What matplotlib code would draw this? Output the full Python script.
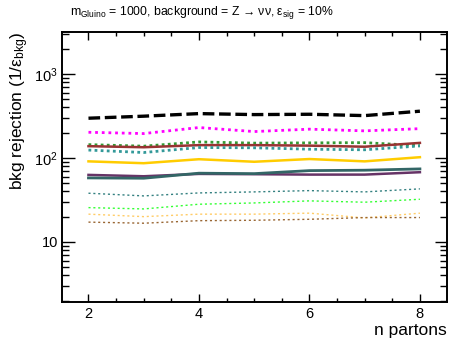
import numpy as np
import matplotlib
matplotlib.use("Agg")
import matplotlib.pyplot as plt
from matplotlib.ticker import FixedLocator, FixedFormatter, MultipleLocator, LogLocator, NullFormatter

plt.rcParams['font.family'] = ['Liberation Sans', 'DejaVu Sans']
plt.rcParams['mathtext.fontset'] = 'custom'
plt.rcParams['mathtext.rm'] = 'Liberation Sans'
plt.rcParams['mathtext.it'] = 'Liberation Sans'
plt.rcParams['mathtext.cal'] = 'Liberation Sans'

n_partons = [2, 3, 4, 5, 6, 7, 8]

# bkg rejection per curve
black_dash = [297, 314, 337, 328, 331, 319, 360]
magenta_dot = [202, 195, 230, 206, 220, 210, 223]
green_dot = [144, 138, 155, 150, 151, 152, 140]
brown_solid = [138, 134, 142, 142, 140, 136, 151]
teal_dot = [124, 116, 133, 132, 127, 125, 139]
gold_solid = [91, 86.5, 96.5, 90, 97, 91, 102]
purple_solid = [62.8, 60.5, 64.5, 64, 63.3, 63.3, 67.6]
slate_solid = [57.8, 57.3, 65.8, 65, 70.6, 71.4, 74]
teal_thin = [38, 35.3, 38.3, 39.4, 40.8, 39.4, 42.8]
lime_thin = [25.6, 24.7, 28.1, 29.1, 30.8, 29.7, 32.2]
orange_thin = [21.4, 20, 21.4, 21.4, 22, 19.3, 22]
brown_thin = [17.2, 16.7, 17.9, 18.1, 18.6, 19.5, 19.5]

curves = [
    (black_dash, '#000000', 2.4, [3.5, 1.4]),
    (magenta_dot, '#ff00ff', 2.0, [1.0, 1.4]),
    (green_dot, '#339933', 2.0, [1.0, 1.2]),
    (brown_solid, '#993333', 1.8, None),
    (teal_dot, '#339999', 2.0, [1.0, 1.2]),
    (gold_solid, '#ffcc00', 1.8, None),
    (purple_solid, '#663366', 1.8, None),
    (slate_solid, '#336666', 2.0, None),
    (teal_thin, '#338080', 1.0, [1.5, 2.0]),
    (lime_thin, '#33ff33', 1.0, [1.5, 2.0]),
    (orange_thin, '#ffcc66', 1.0, [1.5, 2.0]),
    (brown_thin, '#996633', 1.0, [1.5, 2.0]),
]

fig = plt.figure(figsize=(4.49, 3.40), dpi=100)
ax = fig.add_axes([0.138, 0.112, 0.8575, 0.794])

for vals, col, lw, dashes in curves:
    if dashes is None:
        ax.plot(n_partons, vals, color=col, lw=lw)
    else:
        ax.plot(n_partons, vals, color=col, lw=lw, dashes=dashes)

ax.set_yscale('log')
ax.set_xlim(1.52, 8.49)
ax.set_ylim(1.93, 3160)

ax.xaxis.set_major_locator(MultipleLocator(2))
ax.xaxis.set_minor_locator(MultipleLocator(0.5))
ax.yaxis.set_major_locator(FixedLocator([10, 100, 1000]))
ax.yaxis.set_major_formatter(FixedFormatter(['10', r'$10^{2}$', r'$10^{3}$']))
ax.yaxis.set_minor_locator(LogLocator(base=10, subs=np.arange(2, 10)))
ax.yaxis.set_minor_formatter(NullFormatter())

ax.tick_params(which='both', direction='in', top=True, right=True, width=1.0, labelsize=10.5)
ax.tick_params(axis='x', which='major', length=6, pad=4)
ax.tick_params(axis='x', which='minor', length=3)
ax.tick_params(axis='y', which='major', length=9, pad=3)
ax.tick_params(axis='y', which='minor', length=5)
for s in ax.spines.values():
    s.set_linewidth(1.4)

ax.set_xlabel('n partons', fontsize=12.5, loc='right', labelpad=1)
ax.set_ylabel(r'bkg rejection (1/$\epsilon_{\mathrm{bkg}}$)', fontsize=12.5, loc='top', labelpad=2)
fig.text(0.156, 0.963, r'$m_{\mathrm{Gluino}}$ = 1000, background = Z → νν, $\epsilon_{\mathrm{sig}}$ = 10%',
         fontsize=8.8, ha='left', va='center')

fig.savefig('out.png', dpi=100)
